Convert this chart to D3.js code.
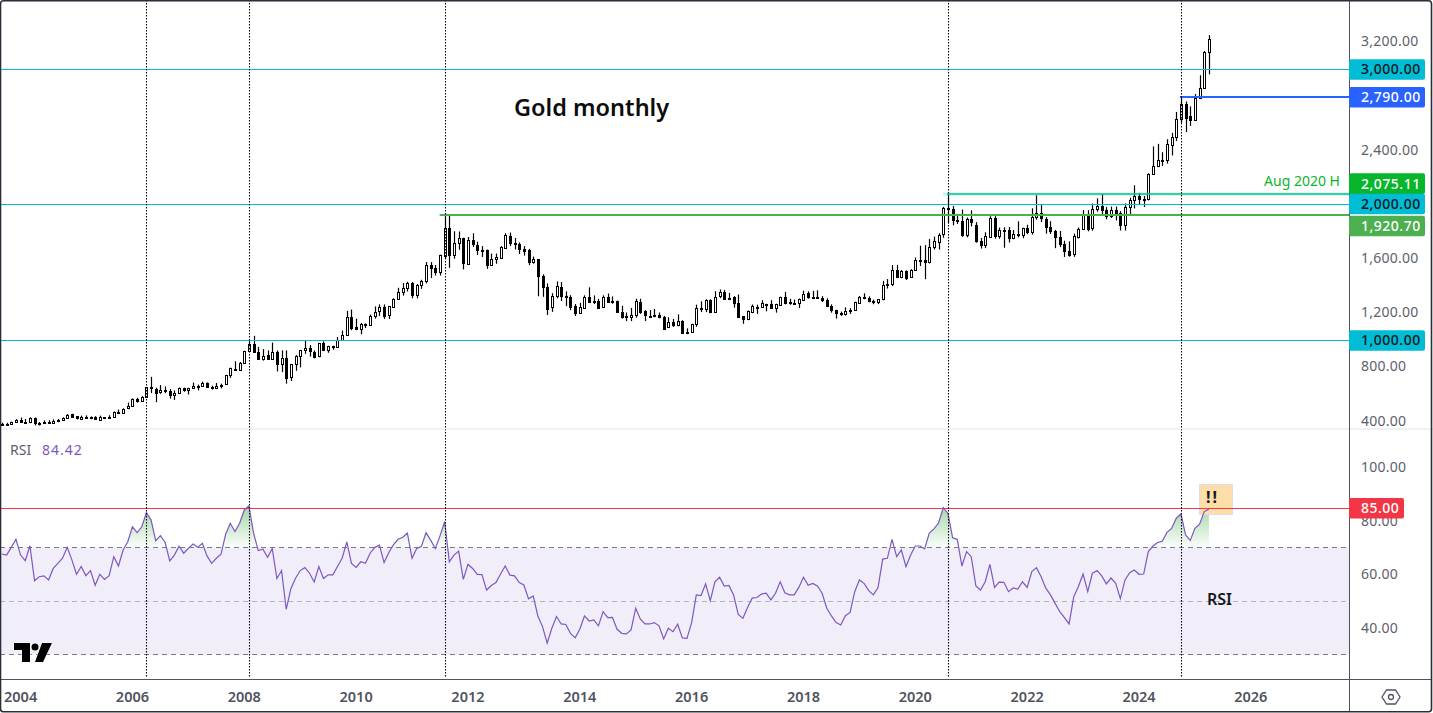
<!DOCTYPE html>
<html>
<head>
<meta charset="utf-8">
<script src="https://cdn.jsdelivr.net/npm/d3@7"></script>
<style>
  html, body { margin: 0; background: #fff; overflow: hidden; }
  text { font-family: "Noto Sans", sans-serif; }
</style>
</head>
<body>
<div id="chart"></div>
<script>
// monthly candles, first one is Sep 2003 (index -4, index 0 = Jan 2004)
const firstIndex = -4;
const opens = [
  375,385,384,398,
  415,400,396,426,387,394,395,391,408,416,428,453,
  438,422,434,428,436,418,432,431,433,473,464,495,
  513,568,556,582,654,640,614,632,627,596,610,646,
  632,650,664,661,683,655,650,665,673,743,790,783,
  834,923,972,916,865,895,862,911,825,872,723,822,
  880,925,940,916,880,978,926,950,950,1000,1040,1175,
  1096,1080,1118,1110,1179,1212,1245,1181,1250,1307,1360,1386,
  1421,1333,1410,1439,1556,1536,1503,1620,1826,1624,1715,1753,
  1565,1740,1705,1669,1664,1556,1597,1610,1685,1770,1719,1712,
  1675,1665,1578,1598,1472,1393,1243,1325,1396,1327,1322,1250,
  1202,1240,1322,1284,1293,1245,1322,1283,1288,1208,1171,1171,
  1184,1284,1213,1183,1184,1190,1172,1094,1136,1110,1142,1060,
  1062,1118,1237,1232,1295,1210,1321,1355,1308,1316,1278,1177,
  1153,1210,1249,1245,1269,1270,1242,1265,1321,1280,1271,1275,
  1302,1346,1318,1323,1315,1298,1253,1223,1202,1191,1215,1222,
  1282,1321,1313,1292,1283,1305,1409,1413,1520,1472,1513,1464,
  1517,1589,1592,1577,1686,1730,1780,1975,1967,1886,1879,1777,
  1898,1850,1734,1707,1768,1906,1770,1814,1813,1757,1783,1774,
  1829,1797,1909,1937,1897,1837,1807,1766,1711,1660,1633,1768,
  1824,1928,1826,1969,1990,1962,1919,1965,1940,1849,1983,2036,
  2063,2039,2044,2230,2286,2327,2326,2447,2503,2634,2744,2654,
  2624,2790,2864,3130
];
const highs = [
  392,391,400,418,
  430,420,432,430,397,408,410,416,420,432,456,458,
  440,444,446,438,440,444,433,447,475,489,498,541,
  572,576,588,655,730,650,670,660,640,630,652,650,
  650,688,673,695,690,665,685,680,745,798,845,840,
  923,1000,1033,950,935,925,983,925,926,925,825,890,
  925,1003,965,925,980,992,960,960,1025,1072,1217,1227,
  1160,1128,1125,1190,1250,1265,1265,1250,1310,1388,1423,1432,
  1430,1415,1447,1577,1577,1555,1632,1914,1921,1805,1803,1757,
  1763,1790,1728,1695,1670,1640,1640,1695,1790,1795,1755,1722,
  1695,1675,1618,1600,1487,1420,1348,1434,1430,1361,1333,1268,
  1277,1332,1391,1331,1306,1332,1345,1324,1293,1255,1205,1238,
  1307,1307,1223,1223,1232,1205,1180,1170,1157,1192,1148,1088,
  1122,1263,1287,1303,1303,1362,1375,1372,1350,1326,1338,1180,
  1220,1264,1263,1296,1270,1296,1270,1322,1357,1306,1300,1308,
  1366,1362,1365,1369,1326,1310,1265,1225,1212,1243,1237,1285,
  1327,1347,1324,1300,1305,1439,1452,1555,1557,1518,1516,1525,
  1611,1698,1703,1747,1765,1790,1984,2075,1992,1933,1965,1906,
  1959,1872,1755,1797,1916,1916,1832,1834,1836,1814,1878,1831,
  1853,1974,2070,1998,1909,1879,1815,1807,1735,1730,1787,1833,
  1960,1960,2009,2048,2079,1983,1987,1987,1953,2010,2052,2144,
  2088,2065,2233,2431,2450,2388,2484,2531,2685,2790,2762,2726,
  2817,2956,3135,3252
];
const lows = [
  371,370,380,392,
  397,390,388,371,371,383,385,387,396,410,428,428,
  416,415,420,418,413,414,418,430,431,455,458,491,
  510,540,545,580,610,543,605,610,570,560,610,620,
  600,645,630,660,650,636,640,645,670,723,780,785,
  835,915,912,865,850,862,862,770,765,680,700,775,
  800,900,880,866,875,920,908,930,950,1000,1040,1075,
  1075,1045,1090,1113,1160,1180,1157,1157,1245,1315,1330,1360,
  1310,1310,1380,1420,1460,1478,1478,1600,1535,1602,1668,1523,
  1560,1688,1630,1615,1527,1550,1565,1600,1680,1695,1670,1637,
  1625,1555,1565,1325,1321,1187,1210,1310,1290,1252,1222,1180,
  1195,1240,1277,1268,1240,1240,1280,1270,1205,1160,1142,1142,
  1167,1195,1142,1178,1170,1162,1085,1090,1098,1103,1052,1045,
  1060,1100,1208,1208,1200,1208,1311,1303,1300,1241,1170,1122,
  1148,1200,1195,1240,1214,1237,1204,1258,1265,1262,1262,1238,
  1302,1307,1303,1310,1282,1245,1204,1160,1180,1183,1195,1217,
  1280,1303,1280,1266,1267,1295,1382,1400,1459,1458,1445,1460,
  1517,1548,1451,1567,1670,1670,1757,1863,1849,1859,1764,1760,
  1840,1720,1677,1680,1760,1750,1750,1683,1722,1746,1759,1753,
  1783,1780,1890,1872,1787,1785,1680,1688,1615,1617,1616,1752,
  1823,1804,1809,1949,1932,1893,1903,1884,1810,1810,1932,1973,
  2002,1984,2032,2229,2277,2286,2304,2364,2471,2604,2537,2582,
  2624,2780,2864,2963
];
const closes = [
  383,384,398,412,
  400,396,426,387,390,395,391,408,412,428,450,434,
  420,434,428,436,418,437,431,433,473,464,495,513,
  568,556,582,654,643,614,632,623,596,612,646,632,
  650,664,661,683,655,650,665,673,743,798,783,834,
  923,972,916,865,887,862,911,825,872,723,822,883,
  925,940,916,880,978,926,955,955,1000,1040,1175,1096,
  1080,1118,1110,1179,1212,1245,1181,1250,1307,1360,1386,1421,
  1333,1410,1439,1556,1536,1503,1628,1826,1624,1715,1753,1565,
  1740,1711,1668,1664,1556,1597,1614,1690,1778,1716,1712,1675,
  1663,1578,1597,1472,1390,1230,1325,1398,1327,1322,1250,1202,
  1245,1322,1284,1290,1245,1322,1284,1287,1208,1171,1180,1184,
  1290,1213,1183,1183,1190,1172,1087,1134,1115,1142,1057,1062,
  1118,1237,1237,1296,1205,1323,1353,1304,1315,1274,1173,1153,
  1215,1252,1249,1274,1269,1242,1269,1321,1274,1270,1275,1303,
  1345,1318,1323,1316,1300,1253,1223,1201,1192,1215,1222,1282,
  1323,1313,1292,1283,1305,1409,1413,1520,1472,1513,1464,1517,
  1589,1592,1577,1686,1730,1780,1975,1967,1886,1879,1777,1898,
  1875,1734,1707,1770,1906,1770,1814,1813,1757,1783,1774,1829,
  1797,1909,1937,1897,1837,1807,1766,1711,1660,1633,1768,1824,
  1928,1826,1969,1990,1962,1919,1965,1940,1849,1983,2036,2063,
  2039,2044,2230,2286,2327,2326,2447,2503,2634,2744,2643,2624,
  2790,2864,3130,3227
];
const rsiValues = [
  67.6,67.2,70.1,73.1,
  67.2,65.1,70.7,57.6,59.1,59.4,57.9,62.2,64.1,66.0,70.1,65.4,
  60.0,62.9,59.5,61.4,55.9,60.0,58.1,59.5,66.6,63.1,69.1,72.2,
  77.8,75.6,77.8,83.1,80.3,72.6,74.5,72.0,65.0,67.2,70.5,67.9,
  69.7,71.3,70.1,71.6,66.9,64.1,66.0,67.5,75.0,79.1,76.0,79.1,
  84.1,85.6,75.4,68.9,69.4,66.4,69.6,58.4,61.4,46.9,54.6,58.5,
  61.4,62.5,60.4,57.1,62.9,58.4,59.8,59.8,62.9,66.0,72.1,64.1,
  62.6,64.7,64.1,67.9,70.1,70.9,64.4,68.1,71.0,73.1,73.9,75.4,
  66.0,69.7,70.4,75.6,72.8,69.6,74.4,79.7,64.7,67.2,68.7,58.1,
  63.7,62.2,60.0,59.9,54.1,55.8,56.9,60.1,63.1,59.7,59.4,56.9,
  56.0,50.8,51.9,44.4,40.4,34.2,39.8,44.2,41.4,41.2,37.9,36.2,
  39.4,44.4,42.5,42.9,40.7,46.0,43.8,43.9,39.4,37.9,37.7,39.2,
  47.3,43.2,41.4,41.4,41.9,40.7,35.8,39.8,38.5,41.3,36.2,36.0,
  41.9,52.3,52.0,56.4,50.1,57.2,58.9,55.6,55.8,52.3,45.0,43.5,
  47.6,51.1,51.3,52.6,52.9,50.4,52.9,57.2,53.1,52.3,52.3,55.1,
  58.9,55.9,56.6,55.6,52.9,47.3,44.4,41.9,41.0,44.5,45.7,53.5,
  57.9,56.6,53.9,52.3,55.0,65.7,66.0,73.1,66.6,69.1,62.9,67.2,
  70.6,70.6,69.5,75.4,77.0,79.3,85.0,82.8,73.7,73.1,63.1,68.5,
  66.6,55.6,54.1,57.2,63.7,55.1,57.1,57.0,53.5,54.9,54.5,57.2,
  55.1,61.0,62.5,59.1,54.8,52.3,49.1,46.0,43.8,41.4,51.6,55.4,
  60.1,53.5,60.4,61.4,59.4,56.4,58.6,56.6,50.9,57.9,60.6,61.6,
  60.0,60.1,68.5,70.6,71.9,72.4,75.7,77.2,81.0,82.6,74.7,72.7,
  77.2,78.8,83.5,84.42
];
const yearTicks = [2004,2006,2008,2010,2012,2014,2016,2018,2020,2022,2024,2026];
const priceTicks = [3200,2400,1600,1200,800,400];
const rsiTicks = [100,80,60,40];
const markerMonths = [27,49,91,199,249];   // months since Jan 2004 of the dotted lines

const width = 1433, height = 713;
const axisX = 1349, paneBottom = 429, rsiBottom = 679.5;
const textColor = "#5d606b";

const fmt = d3.format(",.2f");
const monthIdx = d3.range(opens.length).map(i => i + firstIndex);

const x = d3.scaleLinear().domain([0, 264]).range([20.6, 20.6 + 264 * 4.66]);
const y = d3.scaleLinear().domain([1000, 3000]).range([340.3, 69.3]);
const yr = d3.scaleLinear().domain([30, 70]).range([654.4, 547.6]);

const snap = v => Math.round(v) + 0.5;
const row = v => Math.floor(v) + 0.5;

const svg = d3.select("#chart").append("svg")
  .attr("width", width).attr("height", height)
  .style("display", "block");

// RSI pane background
svg.append("rect").attr("x", 0).attr("width", axisX)
  .attr("y", yr(70)).attr("height", yr(30) - yr(70))
  .attr("fill", "#7e57c2").attr("fill-opacity", 0.1);

const defs = svg.append("defs");
const grad = defs.append("linearGradient").attr("id", "obGrad")
  .attr("gradientUnits", "userSpaceOnUse")
  .attr("x1", 0).attr("x2", 0).attr("y1", yr(85)).attr("y2", yr(70));
grad.append("stop").attr("offset", 0).attr("stop-color", "#4caf50").attr("stop-opacity", 0.5);
grad.append("stop").attr("offset", 1).attr("stop-color", "#4caf50").attr("stop-opacity", 0.02);
defs.append("clipPath").attr("id", "obClip").append("rect")
  .attr("x", 0).attr("y", 430).attr("width", axisX).attr("height", yr(70) - 430);

const rsiArea = d3.area()
  .x((d, i) => x(monthIdx[i]))
  .y0(yr(70))
  .y1(d => yr(d));
svg.append("path").datum(rsiValues)
  .attr("d", rsiArea)
  .attr("fill", "url(#obGrad)")
  .attr("clip-path", "url(#obClip)");

[[70, "#787b86"], [50, "#b2b5be"], [30, "#787b86"]].forEach(function(r) {
  svg.append("line").attr("x1", 0).attr("x2", axisX)
    .attr("y1", row(yr(r[0]))).attr("y2", row(yr(r[0])))
    .attr("stroke", r[1]).attr("stroke-dasharray", "5,4");
});

// candles
const candles = svg.append("g").selectAll("g")
  .data(monthIdx)
  .enter().append("g");
candles.append("line")
  .attr("x1", d => snap(x(d))).attr("x2", d => snap(x(d)))
  .attr("y1", (d, i) => y(highs[i])).attr("y2", (d, i) => y(lows[i]))
  .attr("stroke", "#000").attr("stroke-width", 1.2);
candles.append("rect")
  .attr("x", d => snap(x(d)) - 1)
  .attr("width", 2)
  .attr("y", (d, i) => Math.round(y(Math.max(opens[i], closes[i]))) + 0.5)
  .attr("height", (d, i) => Math.max(1, Math.round(y(Math.min(opens[i], closes[i])) - y(Math.max(opens[i], closes[i])))))
  .attr("fill", (d, i) => closes[i] >= opens[i] ? "#fff" : "#000")
  .attr("stroke", "#000").attr("stroke-width", 1);

// round-number levels
[3000, 2000, 1000].forEach(function(v) {
  svg.append("line").attr("x1", 0).attr("x2", axisX)
    .attr("y1", row(y(v))).attr("y2", row(y(v)))
    .attr("stroke", "#00bcd4").attr("stroke-width", 1);
});
svg.append("rect").attr("x", x(199) - 5).attr("width", axisX - x(199) + 5)
  .attr("y", y(2075.11) - 2.2).attr("height", 3.4)
  .attr("fill", "#00bcd4").attr("fill-opacity", 0.2);
svg.append("line").attr("x1", x(199) - 1).attr("x2", axisX)
  .attr("y1", y(2075.11) - 0.5).attr("y2", y(2075.11) - 0.5)
  .attr("stroke", "#0ec27f").attr("stroke-width", 1.5);
svg.append("line").attr("x1", x(91) - 5).attr("x2", axisX)
  .attr("y1", y(1920.7) - 0.5).attr("y2", y(1920.7) - 0.5)
  .attr("stroke", "#4caf50").attr("stroke-width", 2);
svg.append("line").attr("x1", x(249) - 1).attr("x2", axisX)
  .attr("y1", y(2790) - 0.8).attr("y2", y(2790) - 0.8)
  .attr("stroke", "#2962ff").attr("stroke-width", 2);

// overbought marker box sits under the RSI line
svg.append("rect").attr("x", 1199.5).attr("y", 484.5).attr("width", 33).attr("height", 30)
  .attr("fill", "#ffdda8").attr("stroke", "#d6e0f0");

svg.append("line").attr("x1", 0).attr("x2", axisX)
  .attr("y1", row(yr(85)) + 1).attr("y2", row(yr(85)) + 1)
  .attr("stroke", "#f23645").attr("stroke-width", 1);

const rsiLine = d3.line().x((d, i) => x(monthIdx[i])).y(d => yr(d));
svg.append("path").datum(rsiValues)
  .attr("d", rsiLine)
  .attr("fill", "none").attr("stroke", "#7e57c2").attr("stroke-width", 1.2);

// dotted event lines
svg.selectAll(".marker").data(markerMonths)
  .enter().append("line")
  .attr("x1", d => snap(x(d))).attr("x2", d => snap(x(d)))
  .attr("y1", 0).attr("y2", 677)
  .attr("stroke", "#000").attr("stroke-width", 1.1).attr("stroke-dasharray", "1.5,1.5");

// pane separators and frame
svg.append("line").attr("x1", 0).attr("x2", width).attr("y1", paneBottom).attr("y2", paneBottom)
  .attr("stroke", "#e0e3eb");
svg.append("line").attr("x1", 0).attr("x2", 1431).attr("y1", rsiBottom).attr("y2", rsiBottom)
  .attr("stroke", "#50535e");
svg.append("line").attr("x1", axisX + 0.5).attr("x2", axisX + 0.5).attr("y1", 0).attr("y2", 711)
  .attr("stroke", "#50535e");
svg.append("rect").attr("x", 0.5).attr("y", 0.8).attr("width", 1431).attr("height", 711).attr("rx", 3)
  .attr("fill", "none").attr("stroke", "#2a2e39").attr("stroke-width", 1.6);

// axis labels
svg.selectAll(".ptick").data(priceTicks)
  .enter().append("text")
  .attr("x", 1361).attr("y", d => y(d) - 1).attr("dy", "0.35em")
  .attr("font-size", 14).attr("letter-spacing", 0.25).attr("fill", textColor)
  .text(d => fmt(d));
svg.selectAll(".rtick").data(rsiTicks)
  .enter().append("text")
  .attr("x", 1361).attr("y", d => yr(d)).attr("dy", "0.35em")
  .attr("font-size", 14).attr("letter-spacing", 0.25).attr("fill", textColor)
  .text(d => fmt(d));
svg.selectAll(".xtick").data(yearTicks)
  .enter().append("text")
  .attr("x", d => x((d - 2004) * 12)).attr("y", 697).attr("dy", "0.35em")
  .attr("text-anchor", "middle")
  .attr("font-size", 14.5).attr("font-weight", 600).attr("fill", "#50535e")
  .text(d => d);

// price tags
function tag(label, center, fill, color, right) {
  svg.append("rect").attr("x", axisX).attr("y", center - 10.3)
    .attr("width", right - axisX).attr("height", 20.6).attr("rx", 2).attr("fill", fill);
  svg.append("text").attr("x", 1361).attr("y", center).attr("dy", "0.35em")
    .attr("font-size", 14).attr("letter-spacing", 0.5).attr("font-weight", 500).attr("fill", color).text(label);
}
tag(fmt(3000), 69.5, "#00bcd4", "#131722", 1425);
tag(fmt(2790), 97.3, "#2962ff", "#fff", 1425);
tag(fmt(2075.11), 183.6, "#08b62c", "#fff", 1425);
tag(fmt(2000), 204, "#00bcd4", "#131722", 1425);
tag(fmt(1920.7), 226, "#4caf50", "#fff", 1425);
tag(fmt(1000), 340.5, "#00bcd4", "#131722", 1425);
tag(fmt(85), 508.3, "#f23645", "#fff", 1404);

// text annotations
svg.append("text").attr("x", 514).attr("y", 116)
  .attr("font-size", 23.5).attr("font-weight", 600).attr("fill", "#0c0c0c").text("Gold monthly");
svg.append("text").attr("x", 1340).attr("y", 181).attr("dy", "0.35em").attr("text-anchor", "end")
  .attr("font-size", 14).attr("fill", "#08b62c").text("Aug 2020 H");
svg.append("text").attr("x", 1207).attr("y", 599).attr("dy", "0.35em")
  .attr("font-size", 16).attr("font-weight", 600).attr("fill", "#131722").text("RSI");
svg.append("text").attr("x", 1206).attr("y", 497).attr("dy", "0.35em")
  .attr("font-size", 16).attr("font-weight", 700).attr("letter-spacing", 2).attr("fill", "#131722").text("!!");
svg.append("text").attr("x", 10).attr("y", 450).attr("dy", "0.35em")
  .attr("font-size", 14).attr("fill", textColor).text("RSI");
svg.append("text").attr("x", 42).attr("y", 450).attr("dy", "0.35em")
  .attr("font-size", 14).attr("letter-spacing", 1).attr("fill", "#7e57c2").text(rsiValues[rsiValues.length - 1].toFixed(2));

// TradingView logo
const logo = svg.append("g").attr("fill", "#000").attr("stroke", "#fff").attr("stroke-width", 1)
  .attr("paint-order", "stroke");
logo.append("path").attr("d", "M14 643H30V662H22V650H14Z");
logo.append("circle").attr("cx", 35).attr("cy", 647).attr("r", 3.5);
logo.append("path").attr("d", "M42 643H52L43 662H35Z");

// settings icon
const gear = svg.append("g").attr("fill", "none").attr("stroke", "#50535e").attr("stroke-width", 1.3);
gear.append("path").attr("d", d3.line()([[1382, 697], [1386.5, 690], [1395.5, 690], [1400, 697], [1395.5, 704], [1386.5, 704]]) + "Z");
gear.append("circle").attr("cx", 1391).attr("cy", 697).attr("r", 2.5);
</script>
</body>
</html>
